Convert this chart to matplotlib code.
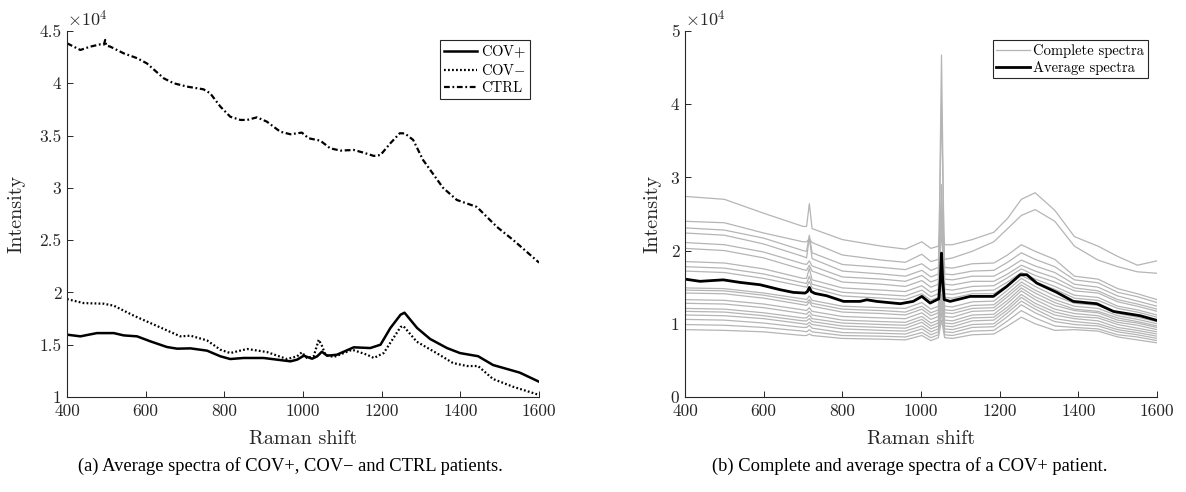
import matplotlib
matplotlib.use('Agg')
import matplotlib.pyplot as plt

plt.rcParams['font.family'] = 'cmr10'
plt.rcParams['mathtext.fontset'] = 'cm'
plt.rcParams['axes.unicode_minus'] = False
plt.rcParams['axes.formatter.use_mathtext'] = True

# ---- panel (a): average spectra, intensity in units of 1e4 ----
ctrl_x = [400, 434, 459, 485, 494, 497, 500, 510, 544, 578, 603, 646, 671, 705, 747, 764, 790, 815,
          841, 858, 883, 908, 942, 968, 997, 1014, 1044, 1069, 1095, 1129, 1154, 1180, 1197, 1222,
          1246, 1259, 1280, 1305, 1356, 1391, 1442, 1493, 1534, 1559, 1600]
ctrl_y = [4.382, 4.318, 4.35, 4.372, 4.37, 4.414, 4.36, 4.35, 4.286, 4.24, 4.19, 4.047, 4.0, 3.968,
          3.942, 3.904, 3.776, 3.68, 3.649, 3.649, 3.674, 3.633, 3.537, 3.512, 3.528, 3.474, 3.451,
          3.378, 3.356, 3.362, 3.336, 3.305, 3.314, 3.426, 3.522, 3.52, 3.458, 3.267, 3.0, 2.884,
          2.817, 2.626, 2.502, 2.42, 2.285]

covp_x = [400, 434, 476, 519, 544, 578, 612, 654, 680, 714, 756, 790, 815, 849, 900, 934, 968, 985,
          1002, 1023, 1036, 1048, 1061, 1086, 1129, 1171, 1197, 1222, 1248, 1258, 1290, 1323, 1366,
          1399, 1445, 1483, 1551, 1600]
covp_y = [1.596, 1.58, 1.611, 1.611, 1.589, 1.58, 1.532, 1.478, 1.462, 1.465, 1.443, 1.389, 1.363,
          1.373, 1.373, 1.357, 1.341, 1.357, 1.395, 1.366, 1.389, 1.433, 1.395, 1.404, 1.475, 1.468,
          1.5, 1.659, 1.787, 1.806, 1.66, 1.555, 1.468, 1.42, 1.39, 1.306, 1.233, 1.146]

covn_x = [400, 442, 493, 519, 570, 612, 654, 688, 714, 756, 790, 815, 832, 858, 908, 959, 985, 997,
          1010, 1027, 1040, 1048, 1057, 1078, 1125, 1163, 1180, 1205, 1248, 1255, 1289, 1348, 1381,
          1417, 1445, 1483, 1534, 1600]
covn_y = [1.936, 1.898, 1.892, 1.873, 1.777, 1.707, 1.637, 1.58, 1.586, 1.541, 1.452, 1.42, 1.436,
          1.459, 1.43, 1.363, 1.389, 1.427, 1.373, 1.389, 1.548, 1.49, 1.404, 1.382, 1.452, 1.404,
          1.373, 1.42, 1.669, 1.679, 1.529, 1.401, 1.325, 1.296, 1.296, 1.172, 1.098, 1.02]

# ---- panel (b): complete spectra of one patient + their average ----
shift = [400, 500, 600, 700, 709, 716, 723, 800, 900, 960, 1002, 1025, 1044, 1052, 1060, 1080,
         1130, 1185, 1220, 1255, 1290, 1340, 1390, 1450, 1500, 1550, 1600]
complete_spectra = [
    [2.74, 2.70, 2.51, 2.33, 2.33, 2.64, 2.30, 2.15, 2.06, 2.02, 2.12, 2.03, 2.06, 2.50, 2.08, 2.08, 2.15, 2.25, 2.44, 2.70, 2.79, 2.55, 2.19, 2.06, 1.92, 1.80, 1.86],
    [2.40, 2.38, 2.24, 2.12, 2.12, 2.16, 2.11, 1.94, 1.87, 1.84, 1.95, 1.85, 1.88, 2.30, 1.88, 1.90, 1.99, 2.12, 2.30, 2.48, 2.56, 2.40, 2.06, 1.87, 1.78, 1.71, 1.69],
    [2.31, 2.28, 2.17, 2.00, 1.99, 2.21, 1.97, 1.81, 1.77, 1.74, 1.82, 1.73, 1.77, 2.60, 1.77, 1.76, 1.82, 1.83, 1.94, 2.08, 1.99, 1.88, 1.65, 1.61, 1.48, 1.41, 1.33],
    [2.24, 2.21, 2.09, 1.92, 1.90, 2.18, 1.89, 1.72, 1.68, 1.65, 1.73, 1.64, 1.68, 2.50, 1.68, 1.67, 1.72, 1.73, 1.84, 1.97, 1.88, 1.78, 1.60, 1.56, 1.43, 1.37, 1.29],
    [2.11, 2.08, 1.98, 1.82, 1.81, 1.86, 1.79, 1.64, 1.61, 1.58, 1.66, 1.57, 1.61, 4.00, 1.61, 1.60, 1.65, 1.65, 1.75, 1.87, 1.79, 1.70, 1.54, 1.50, 1.38, 1.31, 1.24],
    [2.03, 2.00, 1.90, 1.74, 1.73, 1.80, 1.72, 1.57, 1.54, 1.51, 1.59, 1.50, 1.54, 2.40, 1.54, 1.53, 1.58, 1.58, 1.68, 1.80, 1.72, 1.63, 1.49, 1.45, 1.33, 1.27, 1.20],
    [1.85, 1.83, 1.75, 1.62, 1.62, 1.76, 1.60, 1.49, 1.46, 1.44, 1.52, 1.43, 1.47, 2.90, 1.47, 1.46, 1.51, 1.52, 1.63, 1.75, 1.66, 1.57, 1.45, 1.42, 1.30, 1.24, 1.17],
    [1.78, 1.76, 1.68, 1.56, 1.55, 1.65, 1.54, 1.43, 1.40, 1.38, 1.46, 1.37, 1.41, 2.30, 1.41, 1.40, 1.45, 1.46, 1.57, 1.70, 1.61, 1.51, 1.39, 1.36, 1.24, 1.19, 1.12],
    [1.72, 1.70, 1.62, 1.51, 1.50, 1.58, 1.49, 1.38, 1.35, 1.33, 1.41, 1.32, 1.36, 4.67, 1.36, 1.35, 1.41, 1.41, 1.53, 1.66, 1.57, 1.47, 1.35, 1.32, 1.21, 1.16, 1.09],
    [1.49, 1.48, 1.42, 1.34, 1.33, 1.38, 1.32, 1.24, 1.22, 1.21, 1.29, 1.20, 1.24, 1.80, 1.24, 1.23, 1.30, 1.31, 1.46, 1.62, 1.51, 1.38, 1.28, 1.25, 1.14, 1.09, 1.03],
    [1.46, 1.45, 1.39, 1.30, 1.29, 1.33, 1.28, 1.20, 1.18, 1.16, 1.24, 1.15, 1.19, 1.90, 1.19, 1.18, 1.25, 1.26, 1.41, 1.57, 1.46, 1.33, 1.24, 1.21, 1.11, 1.06, 1.00],
    [1.42, 1.41, 1.35, 1.26, 1.25, 1.30, 1.24, 1.16, 1.14, 1.12, 1.20, 1.11, 1.15, 2.70, 1.15, 1.14, 1.21, 1.22, 1.37, 1.53, 1.42, 1.29, 1.20, 1.17, 1.08, 1.03, 0.97],
    [1.33, 1.32, 1.27, 1.19, 1.18, 1.22, 1.17, 1.10, 1.08, 1.07, 1.15, 1.06, 1.10, 1.70, 1.10, 1.09, 1.17, 1.18, 1.32, 1.49, 1.37, 1.25, 1.18, 1.15, 1.05, 1.01, 0.95],
    [1.28, 1.27, 1.22, 1.14, 1.13, 1.17, 1.12, 1.05, 1.03, 1.02, 1.10, 1.01, 1.05, 1.60, 1.05, 1.04, 1.12, 1.13, 1.28, 1.45, 1.33, 1.20, 1.14, 1.11, 1.02, 0.98, 0.92],
    [1.21, 1.20, 1.15, 1.08, 1.08, 1.12, 1.07, 1.01, 0.99, 0.98, 1.06, 0.97, 1.01, 1.60, 1.01, 1.00, 1.08, 1.09, 1.23, 1.40, 1.28, 1.16, 1.10, 1.08, 0.99, 0.94, 0.89],
    [1.17, 1.16, 1.11, 1.04, 1.04, 1.07, 1.03, 0.97, 0.95, 0.94, 1.02, 0.93, 0.97, 1.40, 0.97, 0.96, 1.04, 1.05, 1.19, 1.36, 1.24, 1.12, 1.07, 1.04, 0.95, 0.91, 0.86],
    [1.12, 1.11, 1.07, 1.00, 0.99, 1.02, 0.99, 0.93, 0.91, 0.90, 0.97, 0.89, 0.93, 1.30, 0.93, 0.92, 0.99, 1.00, 1.15, 1.31, 1.20, 1.07, 1.03, 1.00, 0.92, 0.88, 0.83],
    [1.06, 1.05, 1.01, 0.95, 0.95, 0.98, 0.94, 0.88, 0.87, 0.86, 0.93, 0.85, 0.89, 1.25, 0.89, 0.88, 0.95, 0.96, 1.10, 1.26, 1.15, 1.03, 0.99, 0.97, 0.89, 0.85, 0.80],
    [0.99, 0.98, 0.95, 0.90, 0.89, 0.92, 0.89, 0.84, 0.83, 0.82, 0.88, 0.81, 0.85, 1.15, 0.85, 0.84, 0.90, 0.91, 1.04, 1.18, 1.08, 0.97, 0.95, 0.93, 0.85, 0.82, 0.77],
    [0.92, 0.91, 0.89, 0.84, 0.84, 0.86, 0.84, 0.80, 0.79, 0.78, 0.84, 0.77, 0.81, 1.05, 0.81, 0.80, 0.85, 0.86, 0.97, 1.09, 1.00, 0.91, 0.92, 0.90, 0.82, 0.78, 0.74],
]

avg_x = [400, 438, 497, 540, 591, 642, 675, 705, 711, 716, 721, 730, 760, 803, 845, 862, 887, 947,
         980, 1002, 1023, 1040, 1045, 1049, 1052, 1055, 1059, 1074, 1125, 1184, 1218, 1252, 1269,
         1294, 1345, 1387, 1447, 1489, 1557, 1600]
avg_y = [1.61, 1.58, 1.60, 1.565, 1.533, 1.465, 1.429, 1.419, 1.44, 1.497, 1.44, 1.415, 1.383,
         1.306, 1.306, 1.328, 1.306, 1.274, 1.306, 1.374, 1.283, 1.328, 1.34, 1.6, 1.965, 1.6, 1.33,
         1.306, 1.374, 1.374, 1.51, 1.67, 1.67, 1.556, 1.429, 1.306, 1.274, 1.169, 1.11, 1.046]

x_ticks = [400, 600, 800, 1000, 1200, 1400, 1600]
left_yticks = [1, 1.5, 2, 2.5, 3, 3.5, 4, 4.5]
left_ylabels = ['1', '1.5', '2', '2.5', '3', '3.5', '4', '4.5']
right_yticks = [0, 1, 2, 3, 4, 5]

axis_color = '#262626'
grey = '#b5b5b5'

fig = plt.figure(figsize=(11.86, 4.92), dpi=100)
ax1 = fig.add_axes([0.0565, 0.1931, 0.398, 0.744])
ax2 = fig.add_axes([0.5776, 0.1931, 0.398, 0.744])

ax1.plot(covp_x, covp_y, color='black', lw=1.8, ls='-', label=r'COV$+$')
ax1.plot(covn_x, covn_y, color='black', lw=1.6, ls=':', dashes=(0.8, 1.0), label=r'COV$-$')
ax1.plot(ctrl_x, ctrl_y, color='black', lw=1.6, dashes=(2.6, 1.2, 0.8, 1.2), label='CTRL')

for i, spec in enumerate(complete_spectra):
    ax2.plot(shift, spec, color=grey, lw=0.9,
             label='Complete spectra' if i == 0 else None)
ax2.plot(avg_x, avg_y, color='black', lw=2.0, label='Average spectra')

for ax, yticks, ylabels, ylim, lab_x in [(ax1, left_yticks, left_ylabels, (1, 4.5), -0.089),
                                         (ax2, right_yticks, [str(t) for t in right_yticks], (0, 5), -0.05)]:
    ax.set_xlim(400, 1600)
    ax.set_ylim(*ylim)
    ax.set_xticks(x_ticks)
    ax.set_xticklabels([str(t) for t in x_ticks])
    ax.set_yticks(yticks)
    ax.set_yticklabels(ylabels)
    for s in ['top', 'right']:
        ax.spines[s].set_visible(False)
    for s in ['left', 'bottom']:
        ax.spines[s].set_color(axis_color)
        ax.spines[s].set_linewidth(0.8)
    ax.tick_params(direction='in', length=4, width=0.7, color=axis_color,
                   labelcolor=axis_color, labelsize=12.5)
    ax.tick_params(axis='x', pad=5)
    ax.tick_params(axis='y', pad=4)
    ax.set_xlabel('Raman shift', fontsize=14.5, color=axis_color)
    ax.set_ylabel('Intensity', fontsize=14.5, color=axis_color)
    ax.xaxis.set_label_coords(0.5, -0.09)
    ax.yaxis.set_label_coords(lab_x, 0.5)
    ax.text(0.0, 1.005, r'$\times 10^4$', transform=ax.transAxes, ha='left', va='bottom',
            fontsize=13, color=axis_color)
    leg = ax.legend(loc='upper right', bbox_to_anchor=(0.981, 0.975), borderaxespad=0,
                    fontsize=10.5, handlelength=2.3, handletextpad=0.25, labelspacing=0.2,
                    borderpad=0.25, fancybox=False, framealpha=1, edgecolor=axis_color)
    leg.get_frame().set_linewidth(0.8)

fig.text(290 / 1186, 0.053, '(a) Average spectra of COV+, COV\u2212 and CTRL patients.',
         ha='center', va='center', fontsize=13.3, family='Liberation Serif')
fig.text(910 / 1186, 0.053, '(b) Complete and average spectra of a COV+ patient.',
         ha='center', va='center', fontsize=13.3, family='Liberation Serif')

fig.savefig('out.png', dpi=100)
